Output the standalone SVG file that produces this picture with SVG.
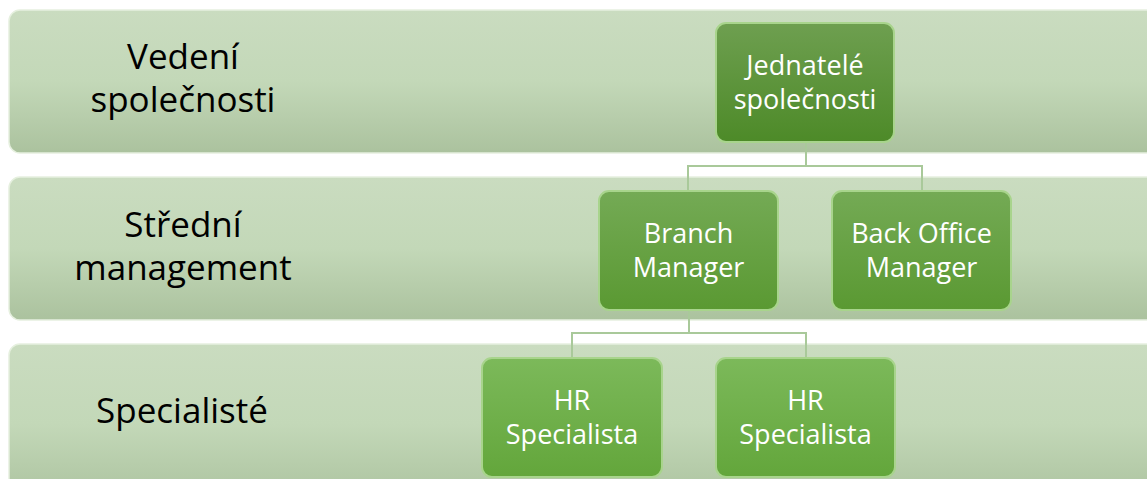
<svg xmlns="http://www.w3.org/2000/svg" width="1147" height="479" viewBox="0 0 1147 479">
<defs>
<linearGradient id="band" x1="0" y1="0" x2="0" y2="1">
<stop offset="0" stop-color="#cadcc0"/>
<stop offset="0.5" stop-color="#c3d8b8"/>
<stop offset="1" stop-color="#abc29e"/>
</linearGradient>
<linearGradient id="g1" x1="0" y1="0" x2="0" y2="1">
<stop offset="0" stop-color="#6e9f50"/>
<stop offset="1" stop-color="#4d8a28"/>
</linearGradient>
<linearGradient id="g2" x1="0" y1="0" x2="0" y2="1">
<stop offset="0" stop-color="#74aa55"/>
<stop offset="1" stop-color="#5a9932"/>
</linearGradient>
<linearGradient id="g3" x1="0" y1="0" x2="0" y2="1">
<stop offset="0" stop-color="#7cb95a"/>
<stop offset="1" stop-color="#63a63b"/>
</linearGradient>
</defs>
<style>
.band{fill:url(#band);stroke:#e6f0df;stroke-width:1.5}
.lbl{font-family:"Open Sans","Noto Sans",sans-serif;font-size:35px;fill:#000;text-anchor:middle}
.nt{font-family:"Open Sans","Noto Sans",sans-serif;font-size:27px;fill:#fff;text-anchor:middle}
.node{stroke:#a8d48c;stroke-width:2}
.conn{fill:none;stroke:#a9c99a;stroke-width:2}
</style>
<rect width="1147" height="479" fill="#fff"/>
<g id="band-vedeni">
<rect class="band" x="9" y="10" width="1160" height="143" rx="11"/>
<text class="lbl" x="183" y="69">Vedení</text>
<text class="lbl" x="183" y="112">společnosti</text>
</g>
<g id="band-stredni">
<rect class="band" x="9" y="177" width="1160" height="143" rx="11"/>
<text class="lbl" x="183" y="237">Střední</text>
<text class="lbl" x="183" y="280">management</text>
</g>
<g id="band-specialiste">
<rect class="band" x="9" y="344" width="1160" height="160" rx="11"/>
<text class="lbl" x="182" y="423">Specialisté</text>
</g>
<g id="connectors">
<path class="conn" d="M806 142 V166 M688 190 V166 H922 V190"/>
<path class="conn" d="M689 310 V333 M572 358 V333 H806 V358"/>
</g>
<g id="n-jednatele">
<rect class="node" x="716" y="23" width="178" height="119" rx="10" fill="url(#g1)"/>
<text class="nt" x="805" y="75">Jednatelé</text>
<text class="nt" x="805" y="109">společnosti</text>
</g>
<g id="n-branch">
<rect class="node" x="599" y="191" width="179" height="119" rx="10" fill="url(#g2)"/>
<text class="nt" x="688.5" y="243">Branch</text>
<text class="nt" x="688.5" y="277">Manager</text>
</g>
<g id="n-backoffice">
<rect class="node" x="832" y="191" width="179" height="119" rx="10" fill="url(#g2)"/>
<text class="nt" x="921.5" y="243">Back Office</text>
<text class="nt" x="921.5" y="277">Manager</text>
</g>
<g id="n-hr1">
<rect class="node" x="482" y="358" width="180" height="119" rx="10" fill="url(#g3)"/>
<text class="nt" x="572" y="410">HR</text>
<text class="nt" x="572" y="444">Specialista</text>
</g>
<g id="n-hr2">
<rect class="node" x="716" y="358" width="179" height="119" rx="10" fill="url(#g3)"/>
<text class="nt" x="805.5" y="410">HR</text>
<text class="nt" x="805.5" y="444">Specialista</text>
</g>
</svg>
